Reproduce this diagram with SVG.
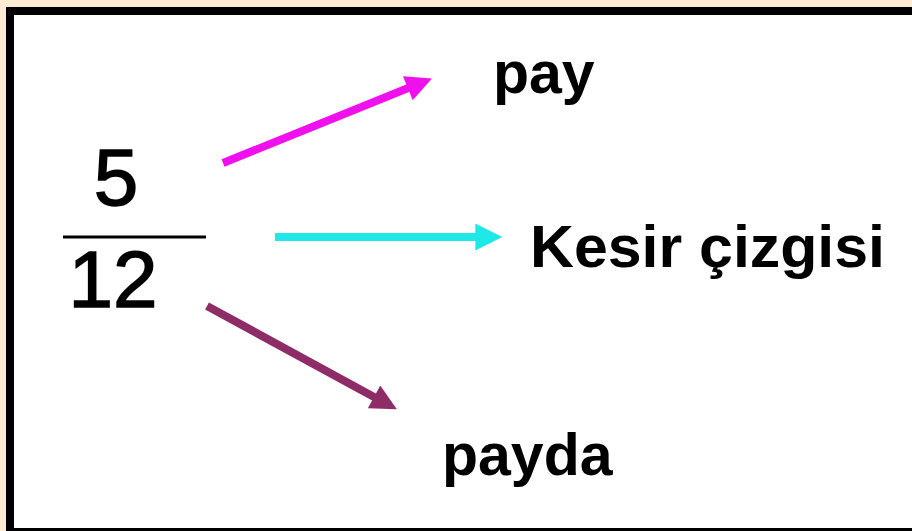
<svg xmlns="http://www.w3.org/2000/svg" width="912" height="531" viewBox="0 0 912 531">
  <style>
    .lbl { font-family: "Liberation Sans", Arial, sans-serif; font-weight: bold; font-size: 59px; fill: #000; }
    .num { font-family: "Liberation Sans", Arial, sans-serif; font-size: 80px; fill: #000; stroke: #000; stroke-width: 1.5; text-anchor: middle; }
    .arr { fill: none; stroke-width: 8; stroke-linecap: butt; }
  </style>
  <defs>
    <marker id="hm" viewBox="0 0 10 10" refX="4" refY="5" markerWidth="28" markerHeight="26" markerUnits="userSpaceOnUse" orient="auto">
      <path d="M0,0 L10,5 L0,10 Z" fill="#f010ee"/>
    </marker>
    <marker id="hc" viewBox="0 0 10 10" refX="4" refY="5" markerWidth="28" markerHeight="27" markerUnits="userSpaceOnUse" orient="auto">
      <path d="M0,0 L10,5 L0,10 Z" fill="#1ee8e8"/>
    </marker>
    <marker id="hp" viewBox="0 0 10 10" refX="4" refY="5" markerWidth="28" markerHeight="26" markerUnits="userSpaceOnUse" orient="auto">
      <path d="M0,0 L10,5 L0,10 Z" fill="#8e2c68"/>
    </marker>
  </defs>
  <rect x="0" y="0" width="912" height="531" fill="#fbecd3"/>
  <rect x="6" y="7" width="906" height="524" fill="#000"/>
  <rect x="14" y="15" width="898" height="513" fill="#fff"/>

  <g id="fraction">
    <text class="num" x="116" y="205">5</text>
    <line x1="63" y1="237" x2="206" y2="237" stroke="#000" stroke-width="3"/>
    <text class="num" x="113" y="307">12</text>
  </g>
  <g id="pay">
    <text class="lbl" x="493" y="93">pay</text>
  </g>
  <g id="kesir">
    <text class="lbl" x="530" y="267" textLength="355" lengthAdjust="spacingAndGlyphs">Kesir çizgisi</text>
  </g>
  <g id="payda">
    <text class="lbl" x="442" y="475">payda</text>
  </g>

  <g id="connectors">
    <line class="arr" x1="223" y1="163" x2="417.5" y2="84.3" stroke="#f010ee" marker-end="url(#hm)"/>
    <line class="arr" x1="275" y1="237" x2="486.2" y2="237" stroke="#1ee8e8" stroke-width="9" marker-end="url(#hc)"/>
    <line class="arr" x1="207" y1="306" x2="383.2" y2="401.9" stroke="#8e2c68" marker-end="url(#hp)"/>
  </g>
</svg>
